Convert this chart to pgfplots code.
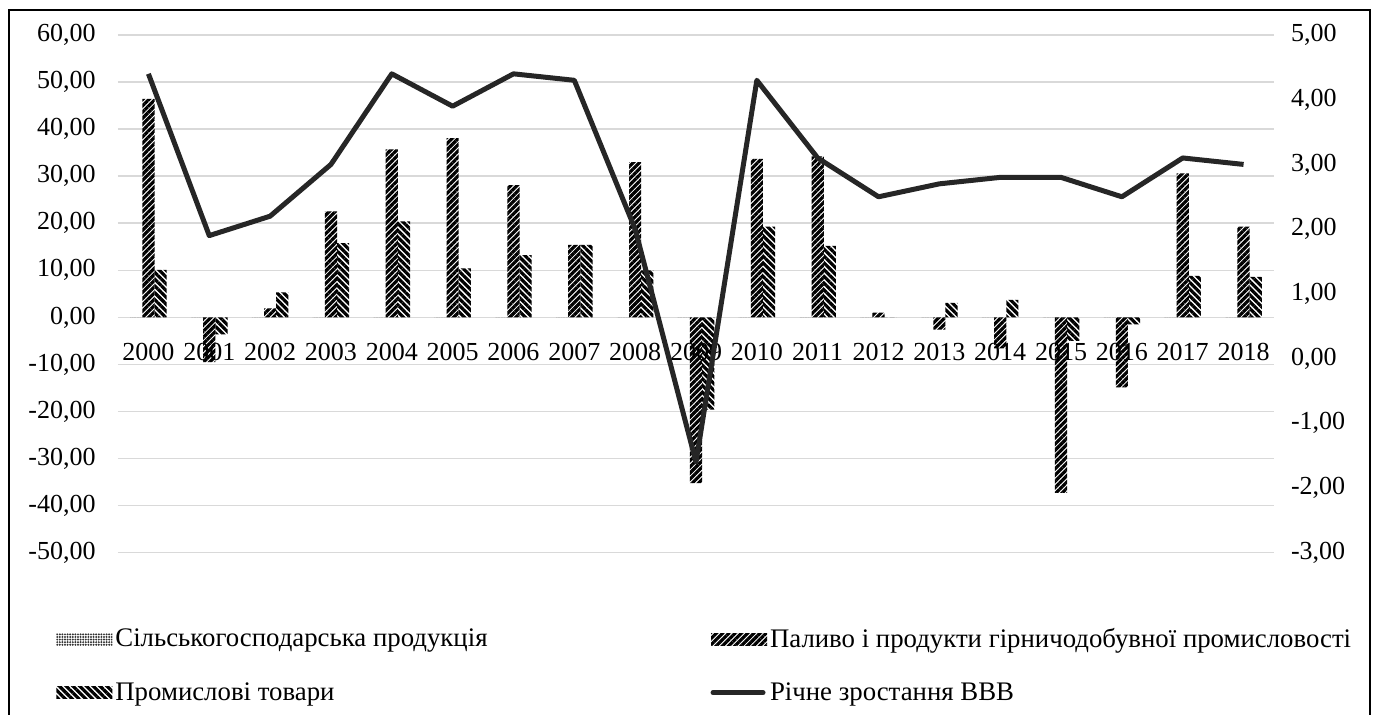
\documentclass[border=0pt]{standalone}
\usepackage{fontspec}
\setmainfont{Liberation Serif}
\usepackage{pgfplots}
\pgfplotsset{compat=1.18}
\usepackage{pgfplotstable}
\usetikzlibrary{patterns.meta}

\definecolor{gridgray}{HTML}{D9D9D9}
\definecolor{linecol}{HTML}{262626}

\pgfplotstableread{
x year agri fuel ind gdp
0 2000 0 46.4 10.1 4.4
1 2001 0 -9.5 -3.6 1.9
2 2002 0 1.9 5.3 2.2
3 2003 0 22.5 15.8 3.0
4 2004 0 35.7 20.4 4.4
5 2005 0 38.1 10.4 3.9
6 2006 0 28.1 13.2 4.4
7 2007 0 15.4 15.4 4.3
8 2008 0 33.0 10.0 2.0
9 2009 0 -35.2 -19.6 -1.6
10 2010 0 33.7 19.3 4.3
11 2011 0 34.2 15.2 3.1
12 2012 0 1.0 0.0 2.5
13 2013 0 -2.6 3.1 2.7
14 2014 0 -6.6 3.7 2.8
15 2015 0 -37.3 -5.0 2.8
16 2016 0 -14.9 -1.5 2.5
17 2017 0 30.6 8.8 3.1
18 2018 0 19.3 8.6 3.0
}\datatable

\newcommand{\lblfont}{\fontsize{13}{15}\selectfont}
\newcommand{\legfont}{\fontsize{13.4}{15}\selectfont}
\pgfplotsset{
  barleg/.style={legend image code/.code={\path[##1,draw=none] (0pt,-3pt) rectangle (28pt,3pt);}},
  lineleg/.style={legend image code/.code={\draw[##1] (1pt,0pt) -- (26pt,0pt);}},
}

\begin{document}
\begin{tikzpicture}
\pgfplotsset{
  every axis/.append style={scale only axis, width=578pt, height=258.85pt,
    xmin=-0.5, xmax=18.5, tick style={draw=none}, axis line style={draw=none},
    tick label style={font=\lblfont}},
}
\begin{axis}[
  ymin=-50, ymax=60,
  ytick={-50,-40,-30,-20,-10,0,10,20,30,40,50,60},
  yticklabels={{-50,00},{-40,00},{-30,00},{-20,00},{-10,00},{0,00},{10,00},{20,00},{30,00},{40,00},{50,00},{60,00}},
  xtick={0,1,2,3,4,5,6,7,8,9,10,11,12,13,14,15,16,17,18},
  xticklabels={2000,2001,2002,2003,2004,2005,2006,2007,2008,2009,2010,2011,2012,2013,2014,2015,2016,2017,2018},
  ymajorgrids, grid style={gridgray, line width=0.75pt},
  xticklabel style={yshift=112.65pt},
  yticklabel style={xshift=-7.7pt},
  ybar=0pt, bar width=0.2,
  legend columns=2,
  legend style={draw=none, fill=none, at={(0,0)}, anchor=north west,
    xshift=-34pt, yshift=-34pt, font=\legfont,
    nodes={inner sep=1.5pt},
    /tikz/every even column/.append style={column sep=110pt},
    row sep=13pt},
  legend cell align=left,
]
\addplot[draw=none, pattern={Dots[distance=1.3pt, radius=0.55pt]}, pattern color=black!80,
  bar shift=-0.2, barleg]
  table[x=x,y=agri]{\datatable};
\addlegendentry{Сільськогосподарська продукція}
\addplot[draw=none, pattern={Lines[angle=45, distance=2.2pt, line width=1.6pt]}, pattern color=black,
  bar shift=0, barleg]
  table[x=x,y=fuel]{\datatable};
\addlegendentry{Паливо і продукти гірничодобувної промисловості}
\addplot[draw=none, pattern={Lines[angle=-45, distance=2.4pt, line width=1.6pt]}, pattern color=black,
  bar shift=0.2, barleg]
  table[x=x,y=ind]{\datatable};
\addlegendentry{Промислові товари}
\addlegendimage{linecol, line width=2.5pt, line cap=round, lineleg}
\addlegendentry{Річне зростання ВВВ}
\end{axis}
\begin{axis}[
  ymin=-3, ymax=5,
  ytick={-3,-2,-1,0,1,2,3,4,5},
  yticklabels={{-3,00},{-2,00},{-1,00},{0,00},{1,00},{2,00},{3,00},{4,00},{5,00}},
  axis y line*=right, axis x line=none,
  yticklabel style={xshift=5pt},
]
\addplot[linecol, line width=2.5pt, line join=round] table[x=x,y=gdp]{\datatable};
\end{axis}
\draw[line width=1pt] (-54.5pt,-81.15pt) -- (-54.5pt,271.35pt) -- (626pt,271.35pt) -- (626pt,-81.15pt);
\pgfresetboundingbox
\path[use as bounding box] (-59pt,-81.15pt) rectangle (630pt,276.35pt);
\end{tikzpicture}
\end{document}
